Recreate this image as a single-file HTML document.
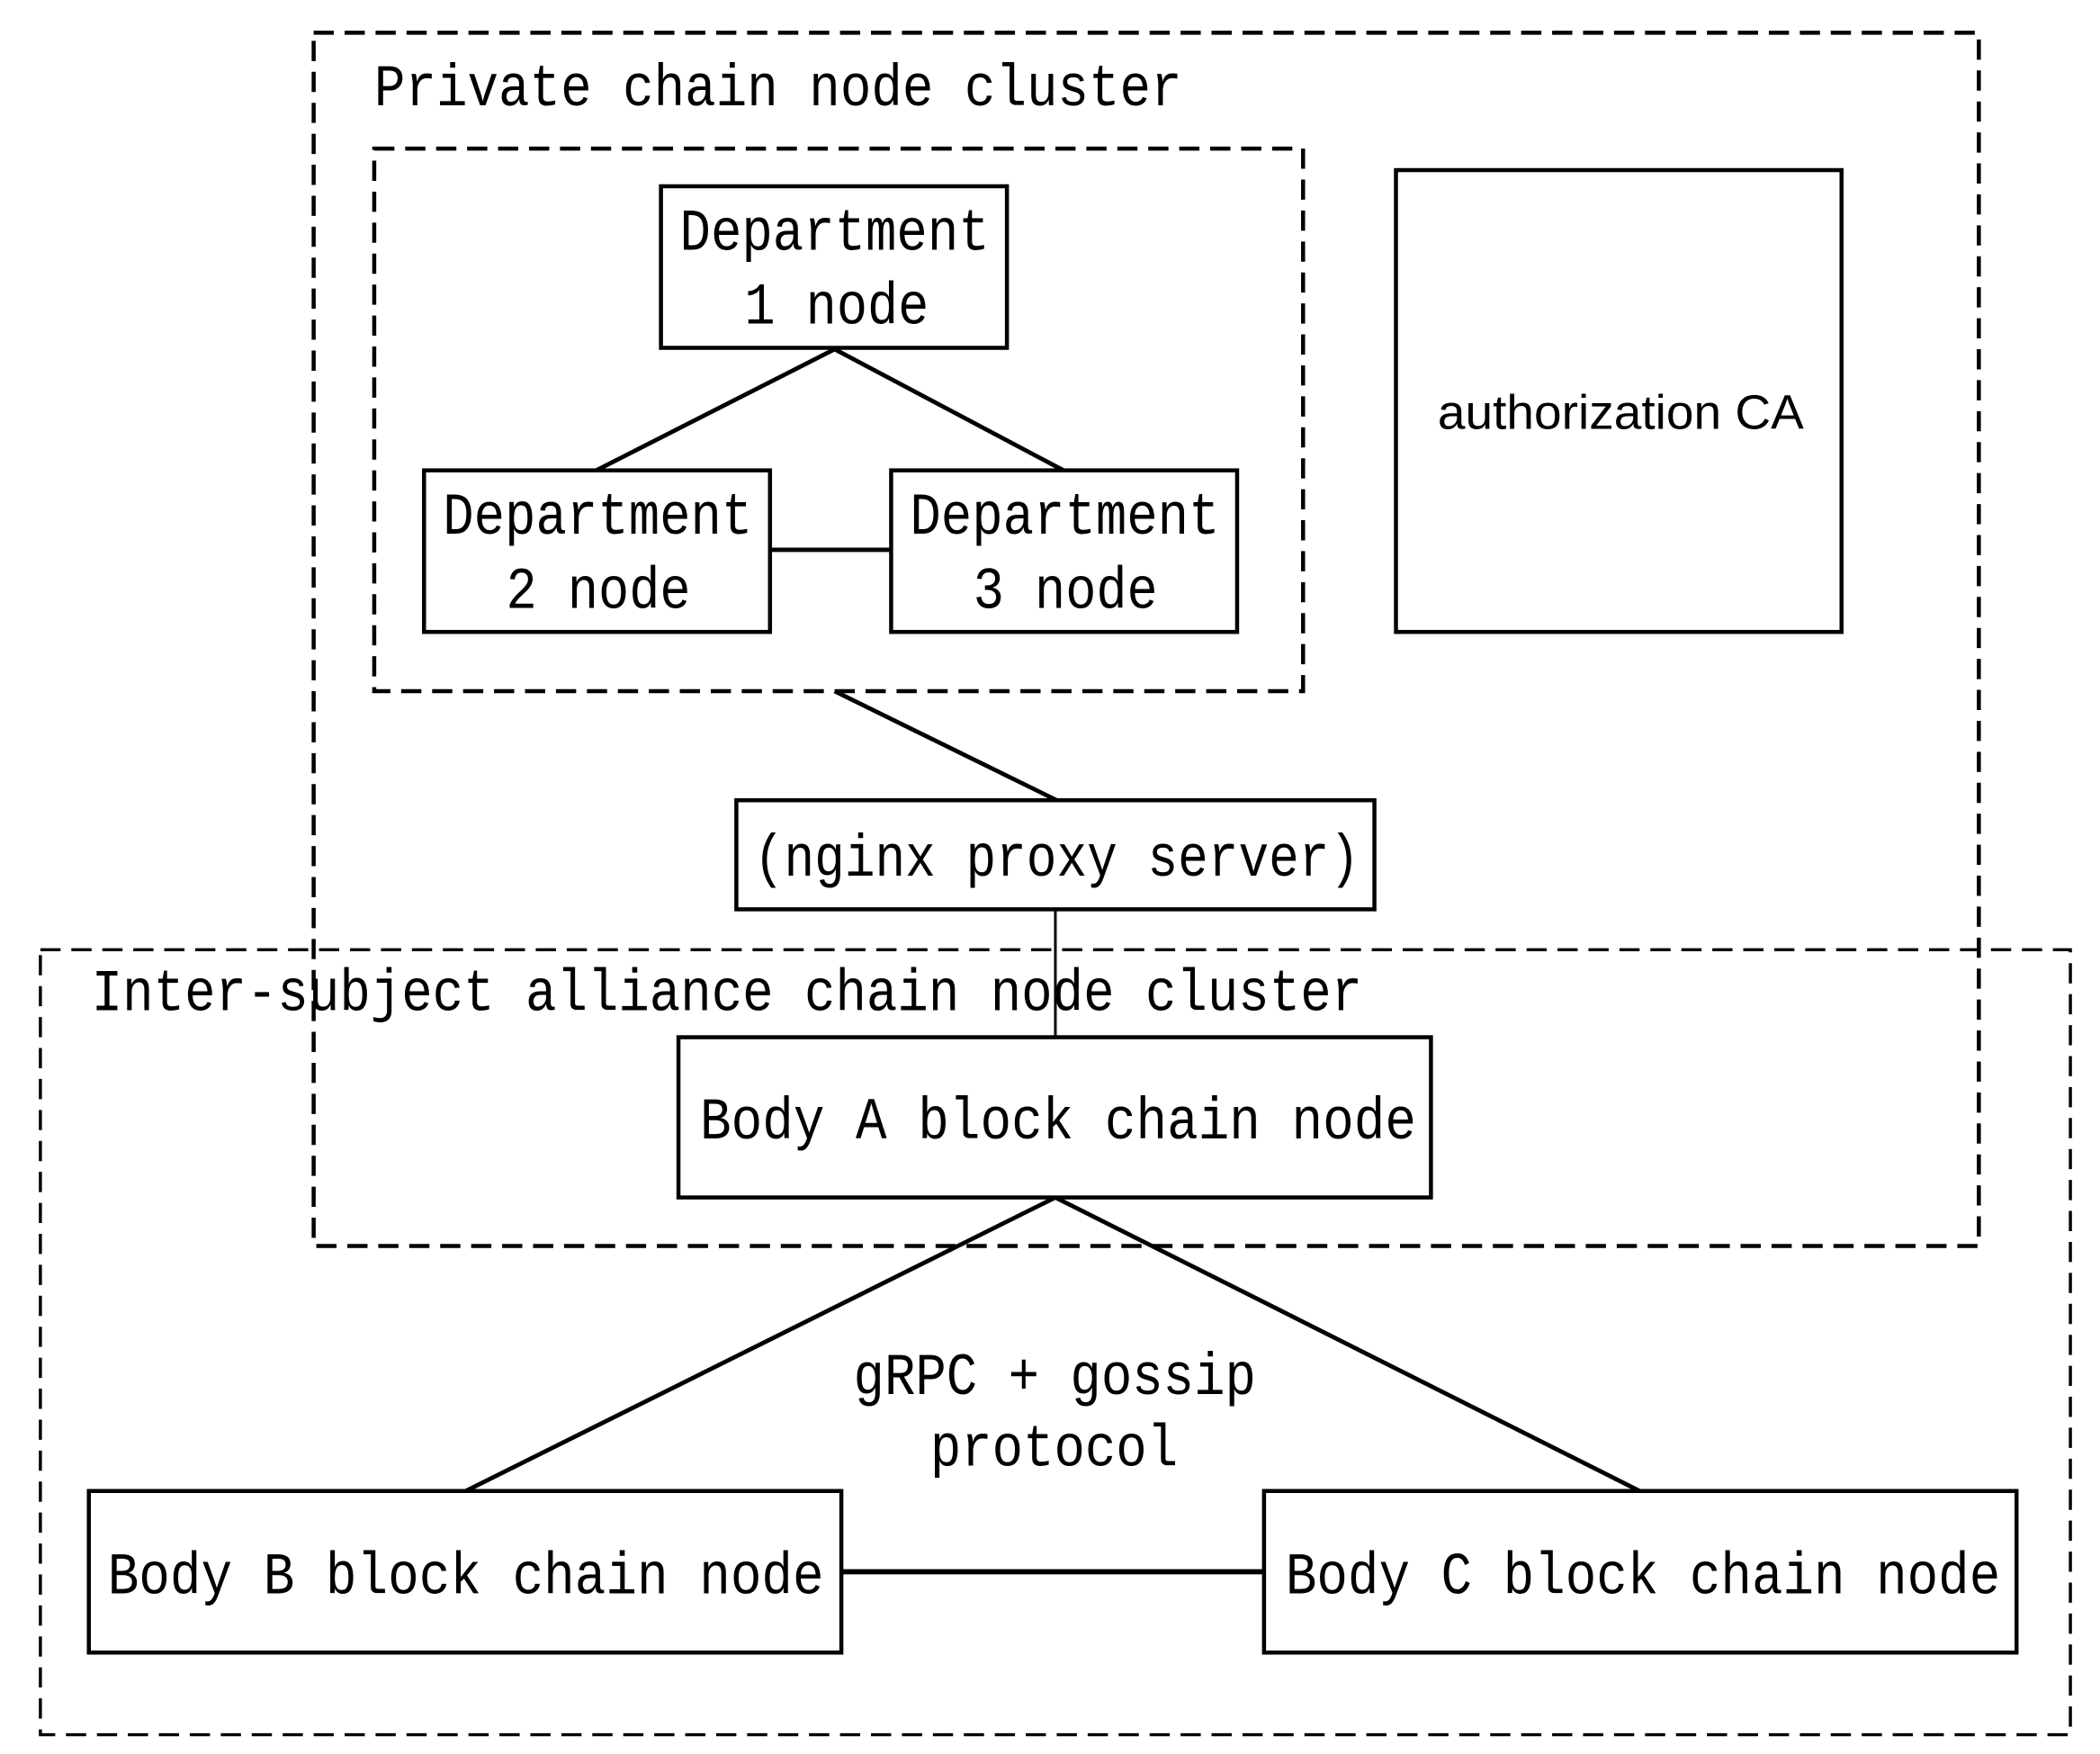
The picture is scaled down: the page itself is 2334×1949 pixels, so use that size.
<!DOCTYPE html>
<html><head><meta charset="utf-8"><style>
html,body{margin:0;padding:0;background:#fff;}
svg{display:block;}
text{font-family:"Liberation Mono","Noto Serif CJK SC",monospace;font-size:44px;fill:#000;}
</style></head><body>
<svg width="2334" height="1949" viewBox="0 0 1560 1302" xmlns="http://www.w3.org/2000/svg">
<g fill="none" stroke="#000" stroke-width="3" stroke-dasharray="15,8">
<rect x="233" y="24" width="1237" height="901"/>
<rect x="278" y="110" width="690" height="403"/>
<rect x="30" y="705" width="1508" height="583" stroke-width="2.3"/>
</g>
<g fill="#fff" stroke="#000" stroke-width="3">
<rect x="491" y="138" width="257" height="120"/>
<rect x="315" y="349" width="257" height="120"/>
<rect x="662" y="349" width="257" height="120"/>
<rect x="1037" y="126" width="331" height="343"/>
<rect x="547" y="594" width="474" height="81"/>
<rect x="504" y="770" width="559" height="119" fill="none"/>
<rect x="66" y="1107" width="559" height="120"/>
<rect x="939" y="1107" width="559" height="120"/>
</g>
<g stroke="#000" stroke-width="3.2" fill="none">
<line x1="620" y1="259" x2="443" y2="349"/>
<line x1="620" y1="259" x2="790" y2="349"/>
<line x1="572" y1="408" x2="662" y2="408"/>
<line x1="620" y1="513" x2="785" y2="594"/>
<line x1="784" y1="675" x2="784" y2="770" stroke-width="2"/>
<line x1="784" y1="889" x2="346" y2="1107"/>
<line x1="784" y1="889" x2="1218" y2="1107"/>
<line x1="625" y1="1167" x2="939" y2="1167" stroke-width="3.8"/>
</g>
<text x="278" y="78" textLength="600" lengthAdjust="spacingAndGlyphs">Private chain node cluster</text>
<text x="505" y="185" textLength="230" lengthAdjust="spacingAndGlyphs">Department</text>
<text x="553" y="240" textLength="137" lengthAdjust="spacingAndGlyphs">1 node</text>
<text x="329" y="396" textLength="230" lengthAdjust="spacingAndGlyphs">Department</text>
<text x="376" y="451" textLength="137" lengthAdjust="spacingAndGlyphs">2 node</text>
<text x="676" y="396" textLength="230" lengthAdjust="spacingAndGlyphs">Department</text>
<text x="723" y="451" textLength="137" lengthAdjust="spacingAndGlyphs">3 node</text>
<text x="1068" y="318" style="font-family:'Liberation Sans',sans-serif;font-size:36px" textLength="272" lengthAdjust="spacingAndGlyphs">authorization CA</text>
<text x="560" y="650" textLength="450" lengthAdjust="spacingAndGlyphs">(nginx proxy server)</text>
<text x="68" y="750" textLength="944" lengthAdjust="spacingAndGlyphs">Inter-subject alliance chain node cluster</text>
<text x="520" y="845" textLength="532" lengthAdjust="spacingAndGlyphs">Body A block chain node</text>
<text x="634" y="1035" textLength="299" lengthAdjust="spacingAndGlyphs">gRPC + gossip</text>
<text x="691" y="1088" textLength="184" lengthAdjust="spacingAndGlyphs">protocol</text>
<text x="80" y="1183" textLength="532" lengthAdjust="spacingAndGlyphs">Body B block chain node</text>
<text x="955" y="1183" textLength="531" lengthAdjust="spacingAndGlyphs">Body C block chain node</text>
</svg>
</body></html>
